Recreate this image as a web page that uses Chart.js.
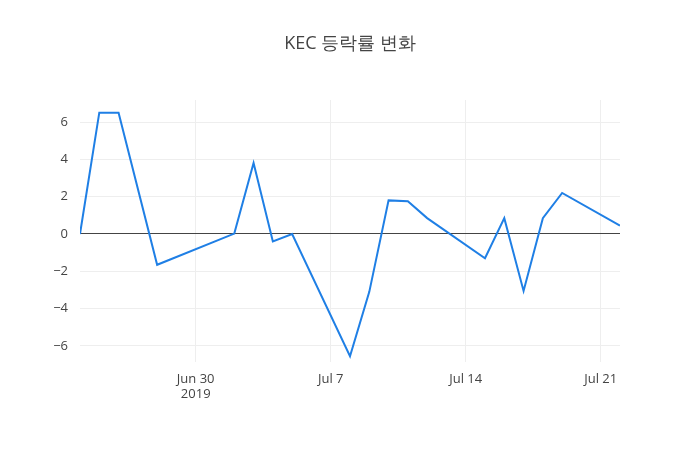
<!DOCTYPE html>
<html><head><meta charset="utf-8">
<script src="https://cdn.jsdelivr.net/npm/chart.js@4/dist/chart.umd.min.js"></script>
<style>body{margin:0;background:#fff}#w{width:700px;height:450px}</style>
</head><body><div id="w"><canvas id="c"></canvas></div>
<script>
// day offsets from 2019-06-24
const days = [0,1,2,4,8,9,10,11,14,15,16,17,18,21,22,23,24,25,28];
const values = [0,6.5,6.5,-1.65,0.02,3.8,-0.4,0.0,-6.55,-3.1,1.8,1.75,0.85,-1.3,0.85,-3.05,0.85,2.2,0.45];
const xTickPos = [6,13,20,27];
const xTickLabels = [["Jun 30","2019"],["Jul 7"],["Jul 14"],["Jul 21"]];
const yTicks = [-6,-4,-2,0,2,4,6];
const titleText = "KEC 등락률 변화";

const titlePlugin = {id:'t',afterDraw(ch){const c=ch.ctx;c.save();c.fillStyle='#444';c.font='18px "Open Sans"';c.textAlign='center';c.textBaseline='middle';c.fillText(titleText,350,44);c.restore();}};

new Chart(document.getElementById('c'), {
  type:'line',
  data:{datasets:[{data:days.map((d,i)=>({x:d,y:values[i]})),borderColor:'#1f7fe5',borderWidth:2,pointRadius:0,tension:0,fill:false}]},
  plugins:[titlePlugin],
  options:{
    responsive:true,maintainAspectRatio:false,animation:false,
    layout:{padding:{left:0,right:80,top:100,bottom:0}},
    plugins:{legend:{display:false},tooltip:{enabled:false},title:{display:false}},
    scales:{
      x:{type:'linear',min:0,max:28,
        afterBuildTicks:s=>{s.ticks=xTickPos.map(v=>({value:v}));},
        afterFit:s=>{s.height=88;},
        ticks:{color:'#444',font:{family:'Open Sans',size:13},padding:9,maxRotation:0,autoSkip:false,
          callback:(v)=>{const i=xTickPos.indexOf(v);return i>=0?xTickLabels[i]:'';}},
        grid:{color:'#eee',drawTicks:false},border:{display:false}},
      y:{min:-6.86,max:7.18,
        afterBuildTicks:s=>{s.ticks=yTicks.map(v=>({value:v}));},
        afterFit:s=>{s.width=80;},
        ticks:{color:'#444',font:{family:'Open Sans',size:13},padding:12,
          callback:v=>v<0?'\u2212'+Math.abs(v):String(v)},
        grid:{color:c=>c.tick&&c.tick.value===0?'#444':'#eee',lineWidth:1,drawTicks:false},border:{display:false}}
    }
  }
});
</script></body></html>
